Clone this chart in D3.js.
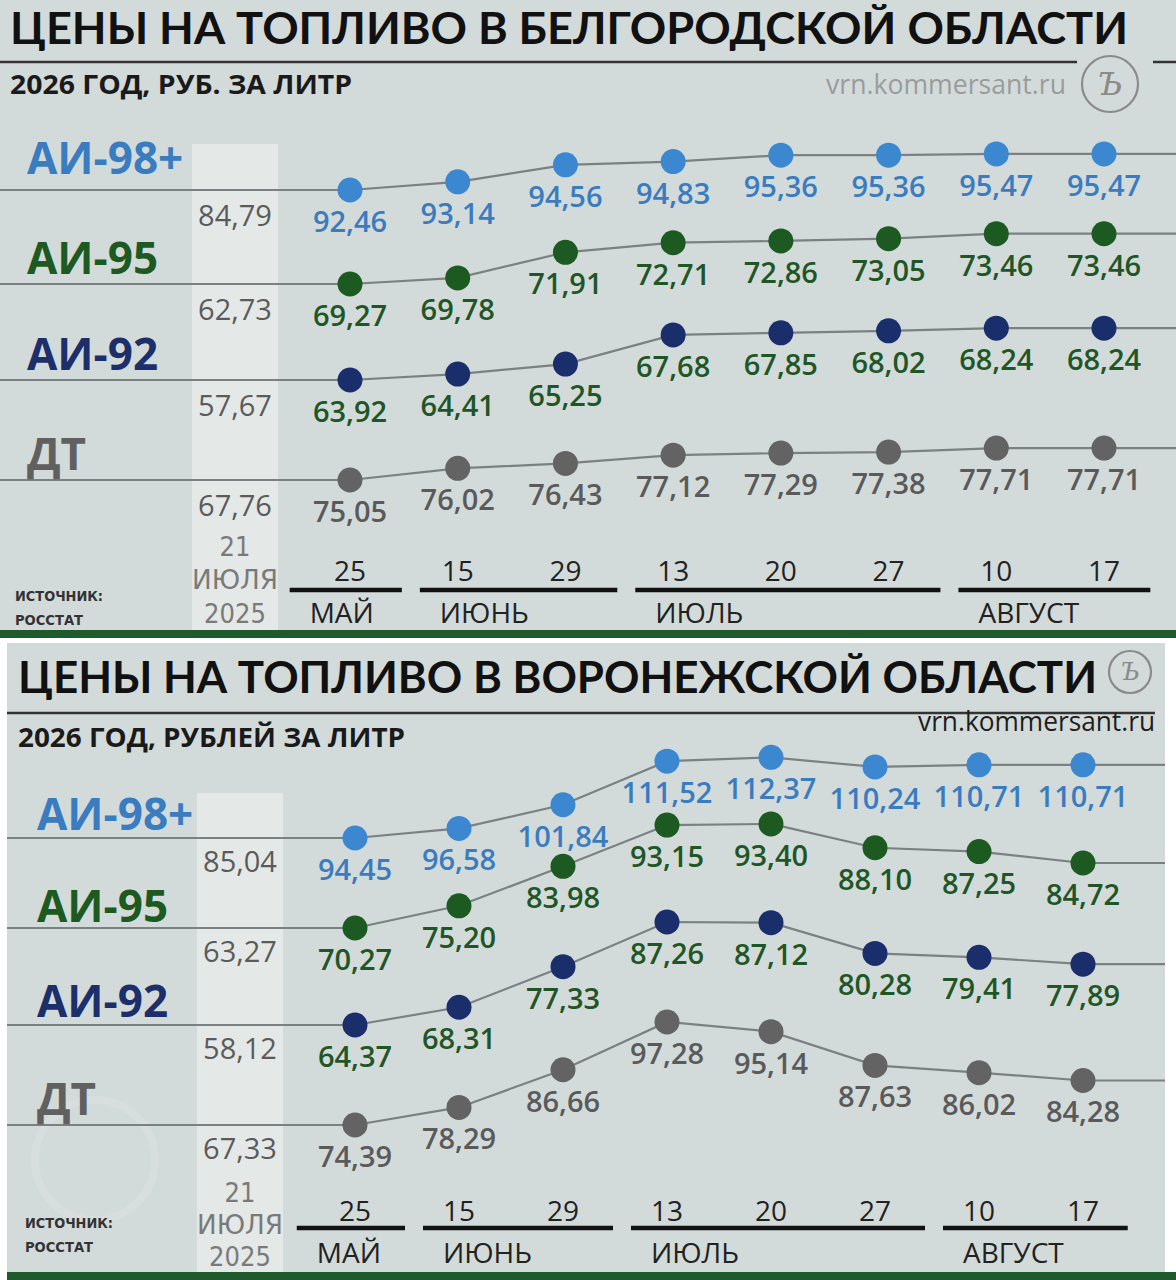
<!DOCTYPE html>
<html><head><meta charset="utf-8">
<script src="https://cdn.jsdelivr.net/npm/d3@7"></script>
<style>html,body{margin:0;padding:0;background:#fff;}svg{display:block;}</style>
</head><body>
<svg id="chart" width="1176" height="1280"></svg>
<script>
// ---------- DATA ----------
const dates = ["25","15","29","13","20","27","10","17"];
const months = ["МАЙ","ИЮНЬ","ИЮЛЬ","АВГУСТ"];
const monthFirst = [0,1,3,6];
const monthLast  = [0,2,5,7];
const fuels = ["АИ-98+","АИ-95","АИ-92","ДТ"];
const baseDate = ["21","ИЮЛЯ","2025"];

const belgorodTitle = "ЦЕНЫ НА ТОПЛИВО В БЕЛГОРОДСКОЙ ОБЛАСТИ";
const belgorodSub = "2026 ГОД, РУБ. ЗА ЛИТР";
const belgorodBase = [84.79, 62.73, 57.67, 67.76];
const belgorod98 = [92.46, 93.14, 94.56, 94.83, 95.36, 95.36, 95.47, 95.47];
const belgorod95 = [69.27, 69.78, 71.91, 72.71, 72.86, 73.05, 73.46, 73.46];
const belgorod92 = [63.92, 64.41, 65.25, 67.68, 67.85, 68.02, 68.24, 68.24];
const belgorodDT = [75.05, 76.02, 76.43, 77.12, 77.29, 77.38, 77.71, 77.71];

const voronezhTitle = "ЦЕНЫ НА ТОПЛИВО В ВОРОНЕЖСКОЙ ОБЛАСТИ";
const voronezhSub = "2026 ГОД, РУБЛЕЙ ЗА ЛИТР";
const voronezhBase = [85.04, 63.27, 58.12, 67.33];
const voronezh98 = [94.45, 96.58, 101.84, 111.52, 112.37, 110.24, 110.71, 110.71];
const voronezh95 = [70.27, 75.20, 83.98, 93.15, 93.40, 88.10, 87.25, 84.72];
const voronezh92 = [64.37, 68.31, 77.33, 87.26, 87.12, 80.28, 79.41, 77.89];
const voronezhDT = [74.39, 78.29, 86.66, 97.28, 95.14, 87.63, 86.02, 84.28];

// ---------- STYLE ----------
const FONT = "'Open Sans', 'Noto Sans', sans-serif";
const TITLEFONT = "Lato, 'Open Sans', sans-serif";
const CONDFONT = "'DejaVu Sans Condensed', 'DejaVu Sans', sans-serif";
const bg = "#d3dbda", band = "#e4e8e7";
const pointColor = ["#3b88d0", "#1d5a22", "#1b2e6c", "#636363"];
const nameColor  = ["#3a7cc0", "#1c5a22", "#1c2f6a", "#606060"];
const labelColor = ["#3a7cbf", "#1f5626", "#1f5626", "#5a5a5a"];
const fmt = v => d3.format(".2f")(v).replace(".", ",");

const svg = d3.select("#chart");
svg.append("rect").attr("width",1176).attr("height",1280).attr("fill","#fff");

function txt(g, s, x, y, o) {
  o = o || {};
  const t = g.append("text").attr("x", x).attr("y", y).text(s)
    .attr("font-family", o.family || FONT)
    .attr("font-size", o.size || 28)
    .attr("font-weight", o.weight || 400)
    .attr("fill", o.fill || "#111")
    .attr("text-anchor", o.anchor || "start");
  if (o.stretch) t.attr("font-stretch", o.stretch);
  if (o.len) t.attr("textLength", o.len).attr("lengthAdjust", "spacingAndGlyphs");
  return t;
}

function logo(g, cx, cy, r, col) {
  g.append("circle").attr("cx",cx).attr("cy",cy).attr("r",r)
    .attr("fill","none").attr("stroke",col).attr("stroke-width",2.2);
  g.append("text").attr("x",cx).attr("y",cy + r*0.4).attr("text-anchor","middle")
    .attr("font-family","'DejaVu Serif', serif").attr("font-style","italic")
    .attr("font-size", r*1.15).attr("fill",col).text("Ъ");
}

function panel(cfg) {
  const g = svg.append("g");
  // background
  g.append("rect").attr("x",cfg.px0).attr("y",cfg.py0).attr("width",cfg.px1-cfg.px0)
    .attr("height",cfg.py1-cfg.py0).attr("fill",bg);
  if (cfg.watermark) {
    g.append("circle").attr("cx",cfg.watermark[0]).attr("cy",cfg.watermark[1]).attr("r",60)
      .attr("fill","none").attr("stroke","#d7dedd").attr("stroke-width",8);
  }
  // light band
  g.append("rect").attr("x",cfg.band[0]).attr("y",cfg.bandTop).attr("width",cfg.band[1]-cfg.band[0])
    .attr("height",cfg.py1-cfg.bandTop).attr("fill",band);
  // green stripe
  g.append("rect").attr("x",cfg.px0).attr("y",cfg.py1).attr("width",cfg.stripeX1-cfg.px0)
    .attr("height",8).attr("fill","#1e5a2c");

  // title
  txt(g, cfg.title, cfg.titleX, cfg.titleY, {size:44, weight:700, fill:"#111", len:cfg.titleLen, family:TITLEFONT});
  cfg.rules.forEach(r => g.append("line").attr("x1",r[0]).attr("x2",r[1]).attr("y1",cfg.ruleY).attr("y2",cfg.ruleY)
    .attr("stroke","#333").attr("stroke-width",2.5));
  txt(g, cfg.sub, cfg.titleX, cfg.subY, {size:26, weight:700, fill:"#1a1a1a", len:cfg.subLen});
  txt(g, "vrn.kommersant.ru", cfg.siteX, cfg.siteY, {size:27, fill:cfg.siteColor, anchor:"end", len:cfg.siteLen});
  logo(g, cfg.logo[0], cfg.logo[1], cfg.logo[2], "#8a8a8a");

  // scales
  const x = d3.scalePoint().domain(dates).range([cfg.xFirst, cfg.xLast]);
  const step = x.step();

  cfg.series.forEach((vals, i) => {
    const y0 = cfg.rows[i];
    const y = d3.scaleLinear().domain([vals[0], vals[0] + 10]).range([y0, y0 - 10*cfg.k]);
    const pts = [[cfg.px0, y0]].concat(vals.map((v,j)=>[x(dates[j]), y(v)]))
      .concat([[cfg.px1, y(vals[vals.length-1])]]);
    g.append("path").attr("d", d3.line()(pts)).attr("fill","none")
      .attr("stroke","#7b8182").attr("stroke-width",2.2);
    // row name
    txt(g, fuels[i], cfg.nameX, y0 - cfg.nameDy[i], {size:44, weight:700, fill:nameColor[i]});
    // base value
    txt(g, fmt(cfg.base[i]), (cfg.band[0]+cfg.band[1])/2, y0 + cfg.baseDy, {size:29, weight:500, fill:"#5b5b5b", anchor:"middle"});
    // points
    g.selectAll(null).data(vals).enter().append("circle")
      .attr("cx",(d,j)=>x(dates[j])).attr("cy",d=>y(d)).attr("r",12.5)
      .attr("fill",pointColor[i]);
    g.selectAll(null).data(vals).enter().append("text")
      .attr("x",(d,j)=>x(dates[j])).attr("y",d=>y(d)+42)
      .attr("text-anchor","middle").attr("font-family",FONT).attr("font-size",29)
      .attr("font-weight",600).attr("fill",labelColor[i]).text(d=>fmt(d));
  });

  // base date column
  const bc = (cfg.band[0]+cfg.band[1])/2;
  baseDate.forEach((s,j)=> txt(g, s, bc, cfg.baseDateY[j], {size:27, fill:"#7a7a7a", anchor:"middle",
    family:CONDFONT, stretch:"condensed", len: j===1 ? 86 : null}));

  // date ticks
  dates.forEach(d => txt(g, d, x(d), cfg.dateY, {size:28, fill:"#222", anchor:"middle"}));
  months.forEach((m, j) => {
    const a = x(dates[monthFirst[j]]), b = x(dates[monthLast[j]]);
    const start = j === 0 ? a - step*0.56 : (x(dates[monthLast[j-1]]) + a)/2 + 16;
    const end = j === months.length-1 ? b + step*0.43 : (b + x(dates[monthFirst[j+1]]))/2 - 2;
    g.append("line").attr("x1",start).attr("x2",end).attr("y1",cfg.monthLineY).attr("y2",cfg.monthLineY)
      .attr("stroke","#111").attr("stroke-width",4.5);
    txt(g, m, start + 20, cfg.monthY, {size:28, fill:"#222"});
  });

  txt(g, "ИСТОЧНИК:", cfg.srcX, cfg.srcY[0], {size:14, weight:600, fill:"#333", family:CONDFONT, stretch:"condensed", len:88});
  txt(g, "РОССТАТ", cfg.srcX, cfg.srcY[1], {size:14, weight:600, fill:"#333", family:CONDFONT, stretch:"condensed", len:68});
}

panel({
  px0:0, px1:1176, py0:0, py1:630, stripeX1:1176,
  title: belgorodTitle, titleX:10, titleY:44, titleLen:1118,
  ruleY:62, rules:[[0,1077],[1153,1176]],
  sub: belgorodSub, subY:94, subLen:342,
  siteX:1066, siteY:94, siteLen:240, siteColor:"#9a9c9c",
  logo:[1110, 84, 28],
  xFirst:350, xLast:1104, k:12,
  series:[belgorod98, belgorod95, belgorod92, belgorodDT], base: belgorodBase,
  rows:[190, 284, 380, 480], nameX:27, nameDy:[16,10,10,10],
  band:[192, 278], bandTop:144, baseDy:36,
  baseDateY:[556, 589, 623], dateY:581, monthLineY:590, monthY:623,
  srcX:15, srcY:[601, 625]
});

panel({
  px0:7, px1:1165, py0:643, py1:1272, stripeX1:1176,
  title: voronezhTitle, titleX:18, titleY:693, titleLen:1079,
  ruleY:713, rules:[[7,1155]],
  sub: voronezhSub, subY:747, subLen:387,
  siteX:1155, siteY:731, siteLen:237, siteColor:"#1e1e1e",
  logo:[1130, 672, 21],
  xFirst:355, xLast:1083, k:4.5,
  series:[voronezh98, voronezh95, voronezh92, voronezhDT], base: voronezhBase,
  rows:[838, 928, 1025, 1125], nameX:37, nameDy:[8,6,8,10],
  band:[197, 283], bandTop:793, baseDy:34,
  baseDateY:[1202, 1234, 1266], dateY:1221, monthLineY:1228, monthY:1263,
  srcX:25, srcY:[1228, 1252], watermark:[95, 1160]
});
</script>
</body></html>
